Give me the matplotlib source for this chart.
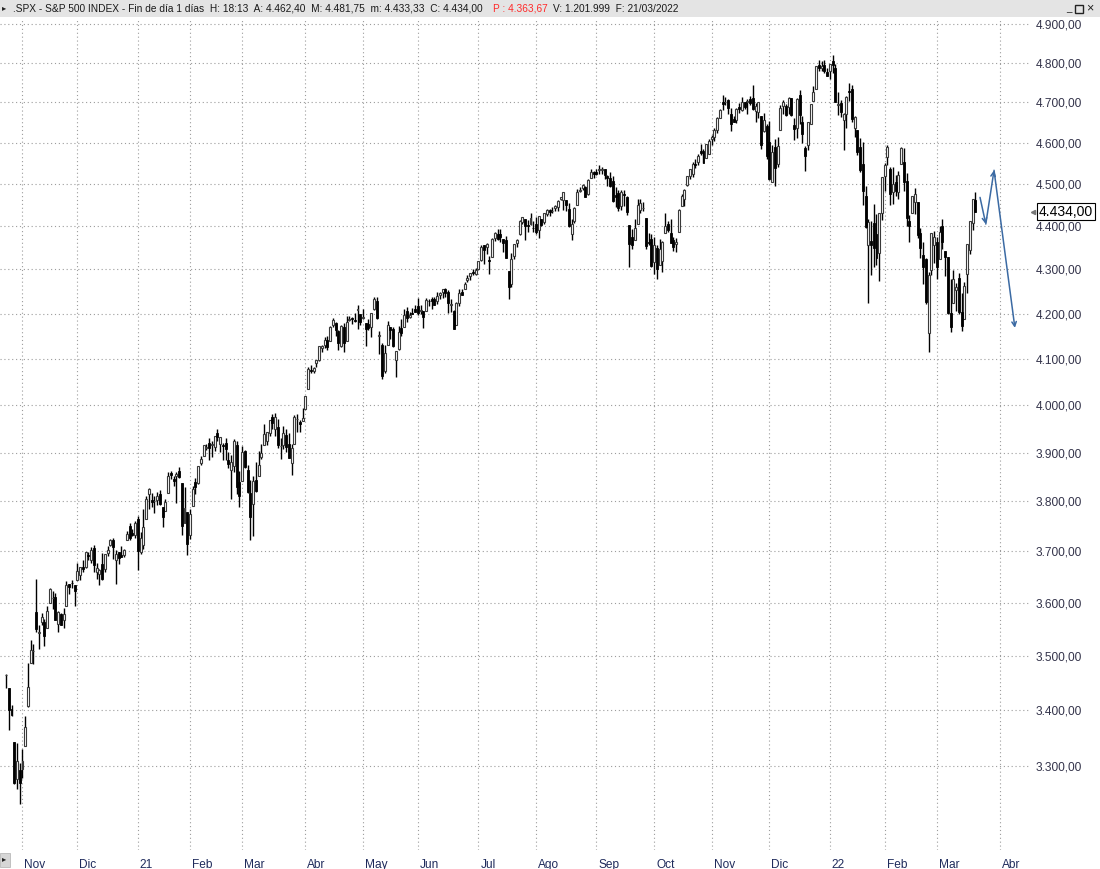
"""SPX daily candles, Oct 2020 - Mar 2022, styled like the broker window."""

import matplotlib

matplotlib.use("Agg")

import matplotlib.pyplot as plt
import numpy as np
from matplotlib.patches import Rectangle
from matplotlib.ticker import FixedLocator, NullFormatter, NullLocator
from matplotlib.transforms import ScaledTranslation

plt.rcParams["font.family"] = ["Liberation Sans", "DejaVu Sans"]

W, H = 1100, 869

# daily OHLC, 23/10/2020 .. 21/03/2022 (one line per month)
open_ = [
    3465, 3441, 3403, 3343, 3277, 3294,
    3296, 3336, 3407, 3486, 3508, 3583, 3543, 3563, 3563, 3553, 3600, 3610, 3612, 3559, 3579, 3567, 3595, 3636, 3639, 3634,
    3645, 3653, 3669, 3670, 3694, 3683, 3706, 3659, 3656, 3675, 3666, 3697, 3713, 3722, 3684, 3698, 3694, 3694, 3723, 3750, 3736, 3733,
    3764, 3698, 3712, 3764, 3815, 3803, 3801, 3802, 3815, 3788, 3781, 3817, 3857, 3845, 3851, 3863, 3837, 3756, 3778,
    3732, 3791, 3840, 3837, 3878, 3893, 3910, 3920, 3916, 3912, 3940, 3918, 3915, 3921, 3885, 3865, 3873, 3916, 3839,
    3842, 3903, 3864, 3818, 3794, 3844, 3851, 3891, 3916, 3924, 3942, 3974, 3949, 3953, 3913, 3916, 3937, 3919, 3879, 3917, 3970, 3964, 3967,
    3992, 4034, 4075, 4074, 4090, 4097, 4124, 4130, 4141, 4140, 4175, 4179, 4160, 4128, 4171, 4139, 4185, 4189, 4185, 4207, 4198,
    4191, 4179, 4177, 4170, 4211, 4228, 4150, 4130, 4074, 4130, 4169, 4165, 4098, 4121, 4168, 4171, 4205, 4192, 4201, 4210,
    4217, 4206, 4206, 4206, 4229, 4233, 4233, 4228, 4242, 4248, 4255, 4248, 4220, 4205, 4174, 4224, 4249, 4256, 4275, 4284, 4293, 4290,
    4301, 4322, 4356, 4351, 4321, 4329, 4373, 4382, 4381, 4369, 4367, 4296, 4266, 4331, 4361, 4382, 4410, 4417, 4403, 4404, 4396,
    4406, 4392, 4416, 4409, 4429, 4438, 4436, 4442, 4446, 4464, 4462, 4462, 4440, 4382, 4411, 4451, 4484, 4490, 4493, 4475, 4514, 4529,
    4528, 4534, 4533, 4536, 4518, 4514, 4506, 4474, 4479, 4447, 4477, 4470, 4403, 4375, 4368, 4406, 4438, 4442, 4419, 4362, 4370,
    4317, 4349, 4310, 4320, 4384, 4406, 4385, 4368, 4358, 4387, 4448, 4463, 4497, 4520, 4524, 4547, 4554, 4579, 4580, 4563, 4573,
    4610, 4614, 4631, 4662, 4700, 4701, 4707, 4670, 4659, 4656, 4689, 4680, 4701, 4700, 4708, 4712, 4678, 4675, 4665, 4629, 4640,
    4603, 4505, 4590, 4548, 4632, 4690, 4691, 4688, 4710, 4643, 4637, 4719, 4652, 4587, 4594, 4645, 4703, 4733, 4795, 4788, 4795, 4776,
    4778, 4804, 4788, 4693, 4698, 4655, 4670, 4729, 4733, 4637, 4632, 4589, 4547, 4472, 4357, 4366, 4408, 4381, 4337, 4431,
    4519, 4566, 4536, 4482, 4505, 4480, 4547, 4554, 4507, 4413, 4430, 4456, 4456, 4385, 4332, 4324, 4156, 4298, 4355,
    4364, 4323, 4401, 4342, 4328, 4202, 4224, 4253, 4280, 4203, 4188, 4289, 4345, 4407, 4462,
]
high = [
    3466, 3441, 3410, 3343, 3341, 3305,
    3330, 3390, 3486, 3529, 3522, 3646, 3557, 3581, 3569, 3594, 3629, 3623, 3619, 3585, 3581, 3590, 3642, 3636, 3644, 3634,
    3678, 3670, 3683, 3699, 3698, 3708, 3712, 3678, 3665, 3697, 3695, 3711, 3725, 3726, 3702, 3698, 3711, 3704, 3740, 3757, 3744, 3760,
    3770, 3738, 3784, 3811, 3827, 3817, 3811, 3820, 3823, 3788, 3804, 3859, 3862, 3852, 3860, 3870, 3837, 3830, 3778,
    3784, 3831, 3847, 3872, 3894, 3915, 3919, 3931, 3925, 3935, 3950, 3933, 3921, 3931, 3902, 3895, 3928, 3925, 3862,
    3914, 3906, 3874, 3843, 3851, 3881, 3903, 3917, 3960, 3944, 3969, 3982, 3984, 3970, 3930, 3956, 3950, 3942, 3919, 3978, 3981, 3968, 3994,
    4020, 4083, 4087, 4083, 4098, 4129, 4131, 4148, 4151, 4173, 4191, 4180, 4164, 4175, 4179, 4195, 4194, 4193, 4201, 4219, 4199,
    4209, 4179, 4188, 4202, 4238, 4236, 4162, 4134, 4131, 4183, 4171, 4169, 4117, 4172, 4188, 4209, 4214, 4203, 4213, 4218,
    4234, 4218, 4206, 4234, 4232, 4236, 4238, 4249, 4249, 4255, 4257, 4252, 4233, 4208, 4226, 4255, 4256, 4271, 4286, 4292, 4301, 4302,
    4320, 4355, 4357, 4361, 4331, 4372, 4387, 4393, 4393, 4370, 4376, 4296, 4337, 4359, 4369, 4415, 4422, 4417, 4415, 4430, 4413,
    4422, 4423, 4416, 4430, 4441, 4440, 4445, 4449, 4461, 4468, 4480, 4462, 4454, 4418, 4444, 4489, 4492, 4501, 4495, 4513, 4537, 4532,
    4537, 4545, 4540, 4536, 4521, 4529, 4520, 4492, 4485, 4486, 4486, 4471, 4403, 4394, 4416, 4465, 4463, 4457, 4419, 4385, 4382,
    4375, 4356, 4369, 4366, 4430, 4412, 4416, 4375, 4373, 4440, 4476, 4488, 4520, 4537, 4552, 4560, 4572, 4598, 4584, 4597, 4608,
    4620, 4635, 4664, 4684, 4719, 4714, 4708, 4685, 4665, 4685, 4698, 4714, 4701, 4708, 4717, 4743, 4699, 4702, 4665, 4673, 4646,
    4653, 4595, 4608, 4613, 4694, 4705, 4695, 4713, 4712, 4660, 4710, 4731, 4667, 4592, 4651, 4697, 4740, 4791, 4807, 4804, 4808, 4787,
    4797, 4819, 4798, 4726, 4707, 4673, 4715, 4749, 4744, 4665, 4632, 4611, 4602, 4495, 4417, 4411, 4453, 4429, 4432, 4516,
    4550, 4595, 4540, 4540, 4522, 4531, 4590, 4588, 4527, 4427, 4472, 4490, 4456, 4395, 4363, 4327, 4294, 4385, 4388,
    4375, 4401, 4416, 4342, 4328, 4277, 4299, 4269, 4291, 4247, 4271, 4357, 4412, 4465, 4482,
]
low = [
    3440, 3365, 3389, 3269, 3260, 3234,
    3280, 3336, 3405, 3486, 3484, 3544, 3512, 3557, 3519, 3553, 3600, 3589, 3567, 3544, 3557, 3553, 3595, 3618, 3629, 3594,
    3645, 3645, 3660, 3668, 3684, 3678, 3660, 3646, 3634, 3645, 3660, 3691, 3710, 3685, 3636, 3676, 3689, 3689, 3723, 3723, 3730, 3726,
    3663, 3695, 3705, 3764, 3784, 3789, 3776, 3792, 3792, 3749, 3780, 3817, 3845, 3831, 3797, 3847, 3732, 3756, 3694,
    3725, 3791, 3816, 3836, 3874, 3892, 3906, 3885, 3890, 3904, 3924, 3901, 3885, 3885, 3868, 3805, 3860, 3815, 3789,
    3842, 3868, 3818, 3723, 3730, 3819, 3851, 3886, 3916, 3915, 3934, 3950, 3935, 3910, 3887, 3908, 3902, 3889, 3854, 3917, 3944, 3944, 3967,
    3992, 4034, 4068, 4068, 4082, 4096, 4114, 4124, 4120, 4140, 4171, 4150, 4119, 4126, 4115, 4139, 4183, 4176, 4181, 4165, 4175,
    4188, 4128, 4164, 4147, 4208, 4188, 4111, 4057, 4069, 4130, 4143, 4125, 4061, 4119, 4151, 4171, 4182, 4189, 4198, 4203,
    4197, 4198, 4167, 4206, 4217, 4209, 4219, 4221, 4233, 4234, 4238, 4202, 4203, 4165, 4174, 4217, 4242, 4256, 4271, 4275, 4287, 4288,
    4300, 4319, 4312, 4336, 4289, 4329, 4365, 4368, 4363, 4341, 4326, 4233, 4260, 4324, 4351, 4379, 4406, 4367, 4387, 4403, 4387,
    4381, 4373, 4400, 4404, 4423, 4424, 4430, 4436, 4436, 4461, 4437, 4436, 4397, 4367, 4407, 4450, 4482, 4486, 4468, 4474, 4514, 4515,
    4522, 4524, 4524, 4513, 4494, 4493, 4457, 4446, 4435, 4438, 4447, 4427, 4306, 4347, 4367, 4406, 4430, 4436, 4346, 4355, 4306,
    4289, 4279, 4310, 4294, 4384, 4386, 4360, 4342, 4341, 4387, 4448, 4447, 4496, 4513, 4516, 4538, 4546, 4570, 4551, 4563, 4573,
    4595, 4604, 4623, 4662, 4681, 4694, 4670, 4630, 4650, 4648, 4673, 4679, 4684, 4672, 4694, 4682, 4652, 4660, 4585, 4626, 4560,
    4510, 4505, 4496, 4540, 4632, 4670, 4665, 4671, 4667, 4606, 4612, 4647, 4600, 4531, 4583, 4645, 4703, 4733, 4780, 4778, 4775, 4766,
    4758, 4774, 4700, 4668, 4663, 4582, 4637, 4703, 4650, 4614, 4569, 4530, 4450, 4395, 4223, 4288, 4305, 4309, 4273, 4415,
    4484, 4545, 4451, 4452, 4471, 4465, 4547, 4484, 4401, 4364, 4430, 4429, 4373, 4327, 4267, 4221, 4115, 4287, 4315,
    4279, 4323, 4346, 4285, 4200, 4158, 4224, 4206, 4200, 4162, 4187, 4247, 4335, 4390, 4433,
]
close = [
    3465, 3401, 3391, 3271, 3310, 3270,
    3310, 3369, 3443, 3510, 3509, 3550, 3545, 3573, 3537, 3585, 3627, 3610, 3568, 3582, 3557, 3578, 3635, 3630, 3638, 3622,
    3662, 3669, 3666, 3699, 3692, 3702, 3673, 3668, 3663, 3647, 3695, 3702, 3722, 3709, 3695, 3687, 3690, 3703, 3735, 3727, 3732, 3756,
    3701, 3727, 3748, 3804, 3825, 3799, 3801, 3810, 3795, 3768, 3798, 3852, 3853, 3841, 3855, 3849, 3751, 3787, 3714,
    3774, 3826, 3830, 3872, 3887, 3915, 3911, 3910, 3917, 3934, 3933, 3932, 3914, 3907, 3876, 3881, 3925, 3829, 3811,
    3901, 3870, 3820, 3768, 3842, 3821, 3875, 3899, 3939, 3943, 3969, 3963, 3974, 3916, 3913, 3941, 3911, 3889, 3910, 3975, 3971, 3959, 3973,
    4020, 4078, 4074, 4080, 4097, 4129, 4128, 4142, 4125, 4170, 4185, 4163, 4135, 4173, 4135, 4180, 4188, 4187, 4183, 4211, 4181,
    4193, 4165, 4168, 4202, 4233, 4189, 4152, 4063, 4113, 4174, 4164, 4128, 4116, 4159, 4156, 4197, 4189, 4196, 4200, 4204,
    4202, 4208, 4192, 4230, 4227, 4227, 4220, 4239, 4247, 4255, 4247, 4224, 4222, 4166, 4224, 4247, 4242, 4266, 4281, 4291, 4291, 4298,
    4320, 4352, 4344, 4358, 4320, 4370, 4385, 4369, 4375, 4360, 4327, 4259, 4323, 4359, 4367, 4412, 4422, 4401, 4400, 4419, 4395,
    4387, 4423, 4403, 4430, 4437, 4433, 4436, 4447, 4460, 4468, 4480, 4449, 4400, 4406, 4442, 4480, 4486, 4497, 4470, 4509, 4529, 4523,
    4524, 4537, 4535, 4521, 4514, 4494, 4459, 4469, 4443, 4480, 4474, 4433, 4358, 4355, 4396, 4449, 4455, 4443, 4353, 4360, 4308,
    4357, 4300, 4346, 4364, 4400, 4391, 4361, 4351, 4364, 4438, 4471, 4486, 4519, 4537, 4549, 4545, 4567, 4575, 4551, 4596, 4605,
    4614, 4631, 4660, 4680, 4697, 4702, 4685, 4646, 4650, 4683, 4683, 4701, 4689, 4704, 4698, 4683, 4690, 4701, 4595, 4655, 4567,
    4513, 4577, 4538, 4592, 4686, 4701, 4668, 4712, 4668, 4634, 4709, 4668, 4621, 4568, 4650, 4697, 4726, 4791, 4786, 4793, 4778, 4766,
    4797, 4794, 4701, 4696, 4677, 4670, 4713, 4726, 4659, 4663, 4577, 4533, 4483, 4398, 4410, 4357, 4350, 4327, 4432, 4516,
    4546, 4589, 4477, 4501, 4484, 4522, 4587, 4504, 4419, 4401, 4472, 4475, 4380, 4349, 4305, 4226, 4288, 4385, 4374,
    4306, 4387, 4364, 4329, 4201, 4171, 4278, 4260, 4204, 4173, 4262, 4358, 4412, 4463, 4434,
]

# bar index of the first session of each month, and its label
month_starts = [6, 26, 48, 67, 86, 109, 130, 150, 172, 193, 215, 236, 257, 278, 300, 320, 339, 362]
month_labels = ["Nov", "Dic", "21", "Feb", "Mar", "Abr", "May", "Jun", "Jul", "Ago",
                "Sep", "Oct", "Nov", "Dic", "22", "Feb", "Mar", "Abr"]
price_ticks = list(range(3300, 5000, 100))

# hand-drawn projection (bar index, price)
proj_x = [354.7, 356.8, 359.8, 367.4]
proj_y = [4468, 4405, 4533, 4168]

last_price = 4434.00
header_main = (".SPX - S&P 500 INDEX - Fin de día 1 días  H: 18:13  A: 4.462,40  "
               "M: 4.481,75  m: 4.433,33  C: 4.434,00")
header_red = "P : 4.363,67"
header_tail = "V: 1.201.999  F: 21/03/2022"


def es_num(v: float) -> str:
    return f"{v:,.2f}".replace(",", "X").replace(".", ",").replace("X", ".")


def fx(px: float) -> float:
    return px / W


def fy(py: float) -> float:
    return 1 - py / H


fig = plt.figure(figsize=(W / 100, H / 100), dpi=100)
fig.patch.set_facecolor("white")

ax = fig.add_axes([0, fy(850), fx(1030), (850 - 18) / H])
ax.set_yscale("log")
ax.set_ylim(3156, 4916)
ax.set_xlim(-2.19, 372.9)
for s in ax.spines.values():
    s.set_visible(False)

o, h, l, c = (np.array(a, dtype=float) for a in (open_, high, low, close))
idx = np.arange(len(c))
up = c >= o

ax.vlines(idx, l, h, color="black", lw=1.0, zorder=2)
ax.bar(idx[up], (c - o)[up], bottom=o[up], width=0.72,
       facecolor="white", edgecolor="#3a3a3a", lw=0.8, zorder=3)
ax.bar(idx[~up], (o - c)[~up], bottom=c[~up], width=0.72,
       facecolor="black", edgecolor="black", lw=0.6, zorder=3)

# axes and grid
ax.yaxis.set_major_locator(FixedLocator(price_ticks))
ax.yaxis.set_minor_locator(NullLocator())
ax.yaxis.set_minor_formatter(NullFormatter())
ax.set_yticklabels([es_num(v) for v in price_ticks])
ax.yaxis.tick_right()
ax.tick_params(axis="y", length=0, pad=4, labelsize=8.6, labelcolor="#33334a")

ax.set_xticks(month_starts)
ax.set_xticklabels(month_labels, ha="left")
ax.tick_params(axis="x", length=0, pad=6.3, labelsize=8.6, labelcolor="#1f2b5c")
shift = ScaledTranslation(2 / 100, 0, fig.dpi_scale_trans)
for lab in ax.get_xticklabels():
    lab.set_transform(lab.get_transform() + shift)

ax.grid(True, ls=(0, (1, 2.5)), color="#9c9c9c", lw=0.8, zorder=0)

# projection arrows
for i in range(len(proj_x) - 1):
    ax.annotate("", xy=(proj_x[i + 1], proj_y[i + 1]), xytext=(proj_x[i], proj_y[i]),
                arrowprops=dict(arrowstyle="->", color="#3b6aa3", lw=1.1,
                                shrinkA=0, shrinkB=0, mutation_scale=8),
                zorder=5)

# last price tag
ytrans = ax.get_yaxis_transform()
ax.text(1.0087, last_price, es_num(last_price), transform=ytrans, ha="left", va="center",
        fontsize=10.1, color="black", clip_on=False,
        bbox=dict(boxstyle="square,pad=0.12", fc="white", ec="black", lw=0.8))
ax.plot([1.0025], [last_price], marker="<", ms=3, color="#777777",
        transform=ytrans, clip_on=False)

# window header
fig.patches.append(Rectangle((0, fy(17)), 1, 17 / H, transform=fig.transFigure,
                             fc="#e4e4e4", ec="none", zorder=0))
fig.text(fx(2), fy(8.5), "▸", fontsize=6, color="#222222", va="center")
fig.text(fx(13), fy(8.5), header_main, fontsize=7.3, color="#1a1a1a", va="center")
fig.text(fx(493), fy(8.5), header_red, fontsize=7.3, color="#ff2a2a", va="center")
fig.text(fx(553), fy(8.5), header_tail, fontsize=7.3, color="#1a1a1a", va="center")
fig.text(fx(1066), fy(8.5), "_", fontsize=7, color="#222222", va="center")
fig.patches.append(Rectangle((fx(1075), fy(13)), fx(8), 8 / H, transform=fig.transFigure,
                             fc="none", ec="#222222", lw=1))
fig.text(fx(1086), fy(8.5), "×", fontsize=9, color="#222222", va="center")

# scroll button bottom-left
fig.patches.append(Rectangle((0, fy(867)), fx(10), 14 / H, transform=fig.transFigure,
                             fc="#d6d6d6", ec="#b0b0b0", lw=0.5))
fig.text(fx(2), fy(860), "▸", fontsize=6, color="#222222", va="center")

fig.savefig("out.png", dpi=100)
